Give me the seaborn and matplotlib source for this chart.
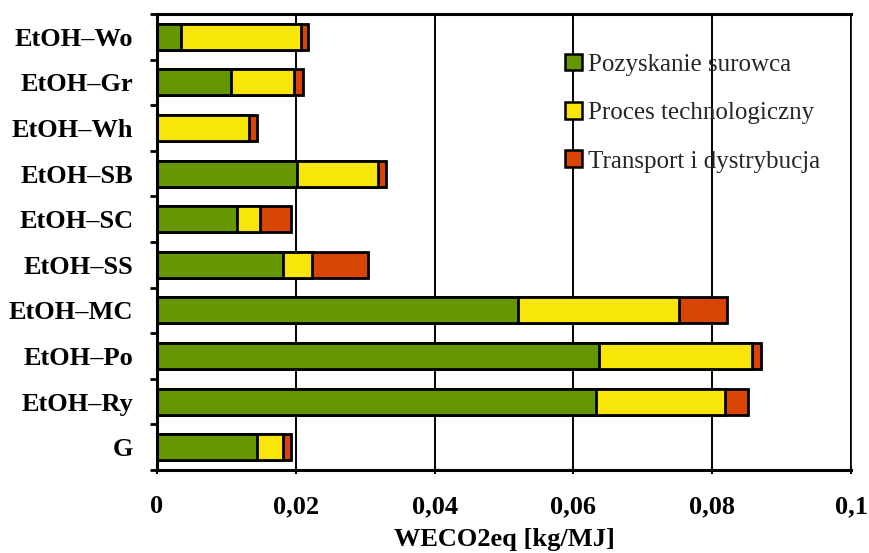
import numpy as np
import pandas as pd
import matplotlib
matplotlib.use("Agg")
import matplotlib.pyplot as plt
from matplotlib.patches import Patch
from matplotlib.ticker import FixedLocator
import seaborn as sns

# Fuel pathways (top to bottom)
fuels = ["EtOH–Wo", "EtOH–Gr", "EtOH–Wh", "EtOH–SB", "EtOH–SC",
         "EtOH–SS", "EtOH–MC", "EtOH–Po", "EtOH–Ry", "G"]

# Emission contributions, kg CO2eq per MJ
feedstock = [0.0035, 0.0106, 0.0000, 0.0201, 0.0115,
             0.0182, 0.0520, 0.0637, 0.0632, 0.0144]
processing = [0.0172, 0.0092, 0.0132, 0.0118, 0.0034,
              0.0042, 0.0232, 0.0221, 0.0186, 0.0037]
transport = [0.0011, 0.0012, 0.0012, 0.0011, 0.0044,
             0.0080, 0.0069, 0.0012, 0.0034, 0.0012]

stage_names = ["Pozyskanie surowca", "Proces technologiczny", "Transport i dystrybucja"]
stage_colors = ["#669600", "#F8E60A", "#D94505"]

x_ticks = [0, 0.02, 0.04, 0.06, 0.08, 0.1]
x_tick_labels = ["0", "0,02", "0,04", "0,06", "0,08", "0,1"]
x_label = "WECO2eq [kg/MJ]"

df = pd.DataFrame({"fuel": fuels, "feedstock": feedstock,
                   "processing": processing, "transport": transport})
df["c1"] = df["feedstock"]
df["c2"] = df["c1"] + df["processing"]
df["c3"] = df["c2"] + df["transport"]

sns.set_theme(style="white")
plt.rcParams["font.family"] = ["Liberation Serif", "DejaVu Serif"]

fig = plt.figure(figsize=(8.69, 5.53), dpi=100)
ax = fig.add_axes([0.1807, 0.150, 0.7986, 0.8247])

# Stacked bars drawn as overlapping cumulative totals
for col, color in zip(["c3", "c2", "c1"], stage_colors[::-1]):
    sns.barplot(data=df, x=col, y="fuel", orient="h", color=color,
                width=0.57, edgecolor="black", linewidth=2.0,
                saturation=1, ax=ax, order=fuels)

ax.set_xlim(0, 0.1)
ax.set_ylim(len(fuels) - 0.5, -0.5)

ax.set_xticks(x_ticks)
ax.set_xticklabels(x_tick_labels)
ax.xaxis.grid(True, color="black", linewidth=1.4)
ax.yaxis.grid(False)
ax.set_axisbelow(True)

ax.yaxis.set_minor_locator(FixedLocator(np.arange(-0.5, len(fuels), 1.0)))
ax.tick_params(axis="y", which="major", length=0, pad=17,
               labelsize=19)
ax.tick_params(axis="y", which="minor", left=True, length=5, width=2,
               direction="out", color="black")
ax.tick_params(axis="x", which="major", bottom=True, length=6, width=1.5,
               direction="inout", color="black", pad=15, labelsize=19)
for lbl in ax.get_yticklabels() + ax.get_xticklabels():
    lbl.set_fontweight("bold")
    lbl.set_color("black")

ax.set_ylabel("")
ax.set_xlabel(x_label, fontsize=19, fontweight="bold", labelpad=7,
              color="black")

for side in ["left", "bottom", "top"]:
    ax.spines[side].set_linewidth(2.2)
    ax.spines[side].set_color("black")
ax.spines["right"].set_linewidth(1.2)
ax.spines["right"].set_color("black")

handles = [Patch(facecolor=c, edgecolor="black", linewidth=1.8, label=n)
           for n, c in zip(stage_names, stage_colors)]
ax.legend(handles=handles, loc="upper left", bbox_to_anchor=(0.574, 0.935),
          frameon=False, fontsize=18, handlelength=0.65, handleheight=0.65,
          handletextpad=0.25, labelspacing=1.05, borderaxespad=0)

fig.savefig("out.png", dpi=100, facecolor="white")
